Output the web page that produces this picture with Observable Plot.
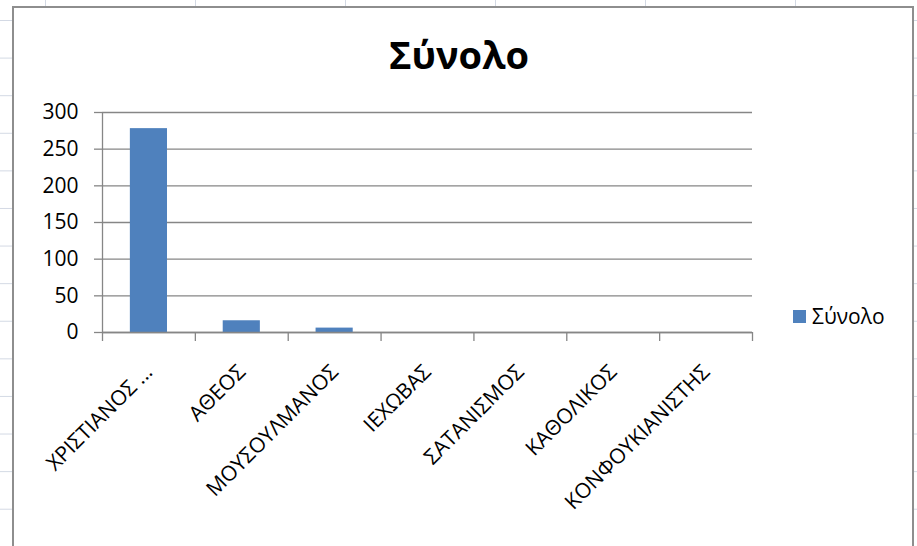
<!DOCTYPE html>
<html>
<head>
<meta charset="utf-8">
<script src="https://cdn.jsdelivr.net/npm/d3@7"></script>
<script src="https://cdn.jsdelivr.net/npm/@observablehq/plot@0.6"></script>
<style>
  html, body { margin: 0; padding: 0; }
  body {
    width: 917px; height: 546px; overflow: hidden; position: relative;
    background-color: #fff;
    background-image: linear-gradient(#d3d9e4 1px, transparent 1px), linear-gradient(90deg, #d3d9e4 1px, transparent 1px);
    background-size: 150px 37.6px;
    background-position: 45px 20px;
    font-family: "Open Sans", sans-serif;
  }
  #chart {
    position: absolute; left: 12px; top: 6px; width: 898px; height: 560px;
    border: 2px solid #8e8e8e; background: #fff;
  }
  #title {
    position: absolute; top: 27px; left: 445px; transform: translateX(-50%);
    font-size: 38px; font-weight: bold; line-height: 38px; color: #000; white-space: nowrap;
  }
  #legend {
    position: absolute; top: 298px; left: 779px; display: flex; align-items: center;
    font-size: 21px; line-height: 21px; color: #000;
  }
  #legend .sw { width: 13px; height: 13px; background: #4f81bd; margin-right: 6px; }
  #plot { position: absolute; left: 0; top: 0; }
</style>
</head>
<body>
<div id="chart">
  <div id="title">Σύνολο</div>
  <div id="plot"></div>
  <div id="legend"><div class="sw"></div><span>Σύνολο</span></div>
</div>
<script>
const categories = ["ΧΡΙΣΤΙΑΝΟΣ ...", "ΑΘΕΟΣ", "ΜΟΥΣΟΥΛΜΑΝΟΣ", "ΙΕΧΩΒΑΣ", "ΣΑΤΑΝΙΣΜΟΣ", "ΚΑΘΟΛΙΚΟΣ", "ΚΟΝΦΟΥΚΙΑΝΙΣΤΗΣ"];
const values = [278, 16, 6, 0, 0, 0, 0];
const yTicks = [0, 50, 100, 150, 200, 250, 300];
const seriesName = "Σύνολο";

const data = categories.map((c, i) => ({category: c, value: values[i]}));

const W = 898, H = 538;
const mL = 88, mR = 160, mT = 104, mB = 214;
const frameW = W - mL - mR, frameH = H - mT - mB;
const step = frameW / categories.length;
const gray = "#868686";

const chart = Plot.plot({
  width: W, height: H,
  marginLeft: mL, marginRight: mR, marginTop: mT, marginBottom: mB,
  style: {fontFamily: "Open Sans", fontSize: "20px", background: "transparent", color: "#000"},
  x: {domain: categories, paddingInner: 0.6, paddingOuter: 0.3, round: false, label: null},
  y: {domain: [0, 300], label: null},
  marks: [
    Plot.gridY(yTicks, {stroke: gray, strokeOpacity: 1, strokeWidth: 1.3}),
    Plot.barY(data, {x: "category", y: "value", fill: "#4f81bd"}),
    Plot.ruleY([0], {stroke: gray, strokeWidth: 1.3}),
    Plot.ruleX([categories[0]], {dx: -step / 2, stroke: gray, strokeWidth: 1.3, insetBottom: -9}),
    Plot.ruleX(categories.slice(1), {dx: -step / 2, stroke: gray, strokeWidth: 1.3, insetTop: frameH, insetBottom: -9}),
    Plot.ruleX([categories[categories.length - 1]], {dx: step / 2, stroke: gray, strokeWidth: 1.3, insetTop: frameH, insetBottom: -9}),
    Plot.axisY({ticks: yTicks, tickSize: 8, tickPadding: 16, stroke: gray, fill: "#000", fontSize: 21, strokeWidth: 1.3}),
    Plot.axisX({tickSize: 0, tickPadding: 36, tickRotate: -45, fill: "#000", fontSize: 21})
  ]
});
document.getElementById("plot").appendChild(chart);
</script>
</body>
</html>
